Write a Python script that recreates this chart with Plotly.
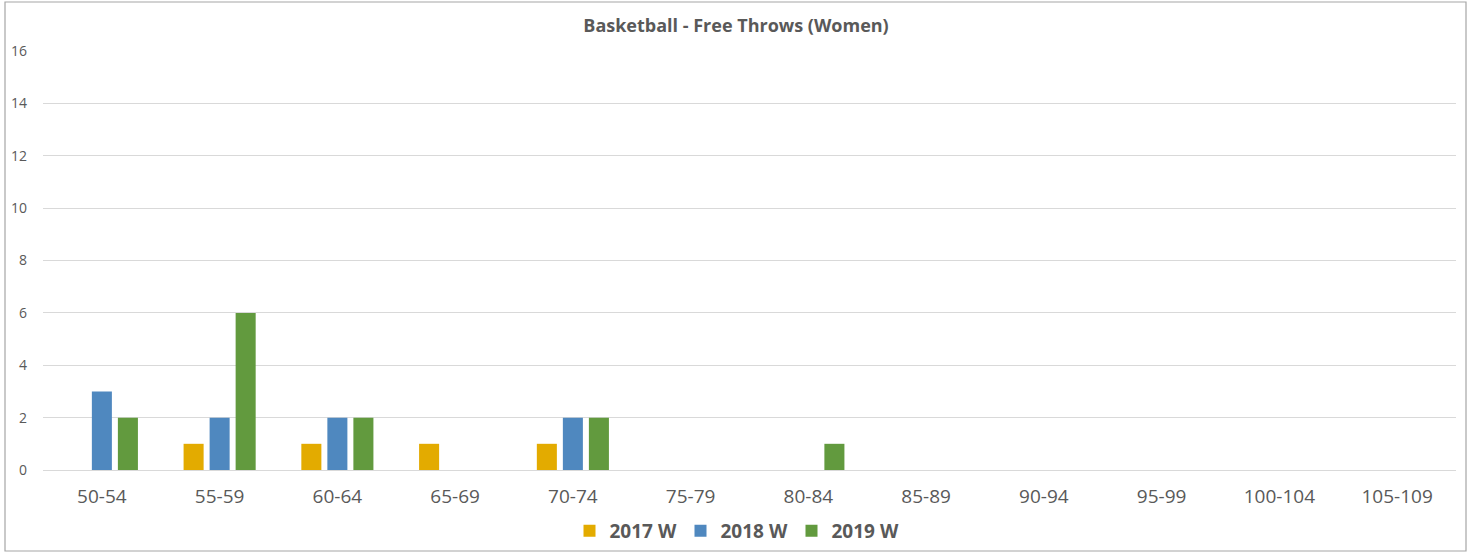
import plotly.graph_objects as go

categories = ["50-54", "55-59", "60-64", "65-69", "70-74", "75-79", "80-84",
              "85-89", "90-94", "95-99", "100-104", "105-109"]
series_names = ["2017 W", "2018 W", "2019 W"]
v2017 = [0, 1, 1, 1, 1, 0, 0, 0, 0, 0, 0, 0]
v2018 = [3, 2, 2, 0, 2, 0, 0, 0, 0, 0, 0, 0]
v2019 = [2, 6, 2, 0, 2, 0, 1, 0, 0, 0, 0, 0]
colors = ["#E3AB00", "#4F88BF", "#629A3E"]
yticks = [0, 2, 4, 6, 8, 10, 12, 14, 16]

W, H = 1472, 554
ml, mr, mt, mb = 43, 16, 51, 84
pw, ph = W - ml - mr, H - mt - mb

fig = go.Figure()
for name, vals, c in zip(series_names, [v2017, v2018, v2019], colors):
    fig.add_trace(go.Bar(x=categories, y=vals, name=name,
                         marker=dict(color=c, line=dict(width=0))))

font = "'Open Sans', sans-serif"
fig.update_layout(
    width=W, height=H,
    margin=dict(l=ml, r=mr, t=mt, b=mb, autoexpand=False),
    paper_bgcolor="white", plot_bgcolor="white",
    barmode="group", bargap=0.337, bargroupgap=0.23,
    title=dict(text="<b>Basketball - Free Throws (Women)</b>",
               x=(736 - ml) / pw, xanchor="center", y=1 - 26 / H, yanchor="middle",
               xref="paper",
               font=dict(family=font, size=18, color="#595959")),
    xaxis=dict(type="category", showgrid=False, showline=False, ticks="",
               automargin=False,
               tickfont=dict(family=font, size=19, color="#595959"),
               ticklabelstandoff=13),
    yaxis=dict(range=[0, 16], tickvals=yticks, showgrid=True, automargin=False,
               gridcolor="#D9D9D9", gridwidth=1, zeroline=True,
               zerolinecolor="#D9D9D9", zerolinewidth=1, showline=False,
               tickfont=dict(family=font, size=14, color="#595959"),
               ticklabelstandoff=15),
    legend=dict(orientation="h", x=(736 - ml) / pw, xanchor="center",
                y=(470 - 531) / ph, yanchor="middle",
                font=dict(family=font, size=19, color="#595959", weight="bold"),
                itemwidth=30, entrywidth=66, traceorder="normal"),
    showlegend=True,
)

# chart border
fig.add_shape(type="rect", xref="paper", yref="paper",
              x0=(5 - ml) / pw, x1=(1466 - ml) / pw,
              y0=(470 - 551) / ph, y1=(470 - 2) / ph,
              line=dict(color="#A6A6A6", width=1.2), fillcolor="rgba(0,0,0,0)",
              layer="below")

fig.write_html("out.html", config={"displayModeBar": False},
               post_script="document.body.style.margin='0';document.body.style.overflow='hidden';")
